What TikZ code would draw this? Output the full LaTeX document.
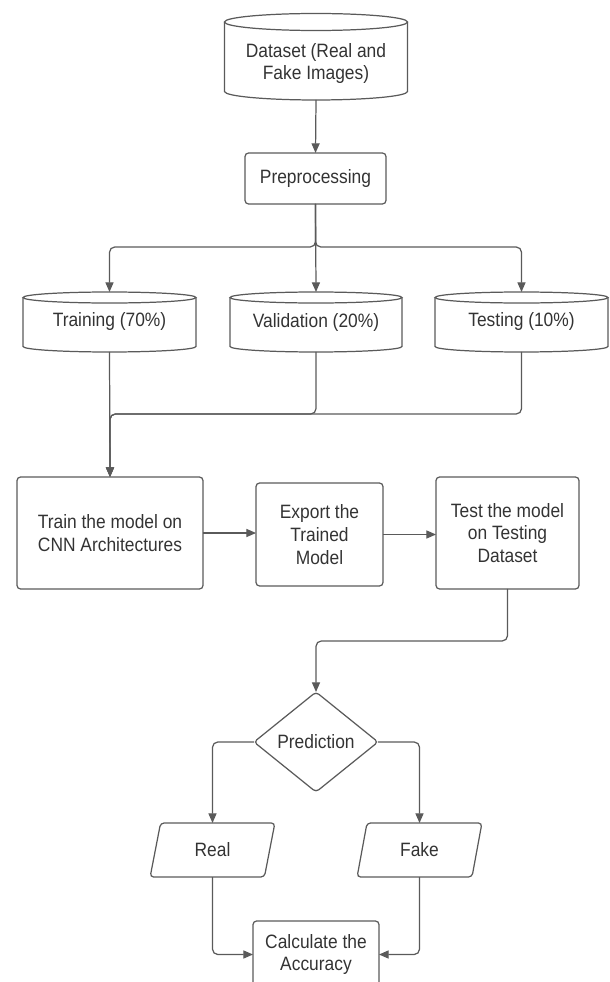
\documentclass[tikz,border=0pt]{standalone}
\usepackage{fontspec}
\setmainfont{Liberation Sans}[FakeStretch=0.9]
\usepackage{tikz}
\usetikzlibrary{arrows.meta,positioning,calc,shapes.geometric}

\definecolor{linegray}{HTML}{5A5A5A}
\definecolor{textgray}{HTML}{333333}

\tikzset{
  base/.style={draw=none, outer sep=0pt, inner sep=2pt, align=center, text=textgray,
    font=\fontsize{11}{13}\selectfont},
  procbox/.style={base, draw=linegray, line width=0.7pt, rounded corners=2pt},
  dbbox/.style={base},
  decision/.style={base, draw=linegray, line width=0.7pt, diamond, rounded corners=2pt, inner sep=0pt},
  iobox/.style={base, draw=linegray, line width=0.7pt, trapezium, trapezium left angle=78.5,
    trapezium right angle=101.5, trapezium stretches=true, rounded corners=2pt},
  cylline/.style={draw=linegray, line width=0.7pt},
  arrow/.style={draw=linegray, line width=0.7pt, rounded corners=3pt,
    -{Triangle[length=5.5pt,width=4.6pt]}},
}

\begin{document}
\begin{tikzpicture}[x=0.02cm,y=0.02cm]
\clip (0,0) rectangle (609,-982);

% Data sources (cylinders)
\node[dbbox, minimum width=3.66cm, minimum height=1.46cm] (data) at (316,-63.5)
  {Dataset (Real and\\Fake Images)};
\node[procbox, minimum width=2.82cm, minimum height=1.02cm] (prep) at (315.5,-178.5) {Preprocessing};
\node[dbbox, minimum width=3.46cm, minimum height=1.2cm] (train) at (109.5,-322) {Training (70\%)};
\node[dbbox, minimum width=3.44cm, minimum height=1.2cm] (valid) at (316,-322) {Validation (20\%)};
\node[dbbox, minimum width=3.46cm, minimum height=1.2cm] (test) at (521.5,-322) {Testing (10\%)};

% cylinder outlines: name / half width / radius / top ellipse offset
\foreach \n/\hw/\r/\t in {data/1.83/0.17/0.10, train/1.73/0.11/-0.11,
                          valid/1.72/0.11/-0.11, test/1.73/0.11/-0.11}{
  \draw[cylline] ($(\n.north west)+(0,\t cm)$) -- ($(\n.south west)+(0,\r cm)$)
    arc[start angle=180, end angle=360, x radius=\hw cm, y radius=\r cm]
    -- ($(\n.north east)+(0,\t cm)$);
  \draw[cylline] ($(\n.north)+(0,\t cm)$) ellipse[x radius=\hw cm, y radius=\r cm];
}

% Model steps
\node[procbox, minimum width=3.72cm, minimum height=2.24cm] (cnn) at (110,-533)
  {Train the model on\\CNN Architectures};
\node[procbox, minimum width=2.54cm, minimum height=2.06cm] (export) at (319.5,-534.5)
  {Export the\\Trained\\Model};
\node[procbox, minimum width=2.86cm, minimum height=2.24cm] (testm) at (507.5,-533)
  {Test the model\\on Testing\\Dataset};

% Prediction and outcome
\node[decision, minimum width=2.48cm, minimum height=2cm] (pred) at (316,-742) {Prediction};
\node[iobox, minimum width=2.5cm, minimum height=1.08cm] (real) at (212.5,-850) {Real};
\node[iobox, minimum width=2.5cm, minimum height=1.08cm] (fake) at (419.5,-850) {Fake};
\node[procbox, minimum width=2.52cm, minimum height=1.34cm] (acc) at (316,-954.5)
  {Calculate the\\Accuracy};

% Connectors
\coordinate (merge) at (110,-414);
\draw[arrow] (data.south) -- (prep.north);
\draw[arrow] (prep.south) -- (valid.north);
\draw[arrow] (prep.south) -- ++(0,-43) -| (train.north);
\draw[arrow] (prep.south) -- ++(0,-43) -| (test.north);
\draw[arrow] (train.south) -- (cnn.north);
\draw[arrow] (valid.south) |- (merge) -- (cnn.north);
\draw[arrow] (test.south) |- (merge) -- (cnn.north);
\draw[arrow] (cnn.east) -- (cnn.east -| export.west);
\draw[arrow] (export.east) -- (export.east -| testm.west);
\draw[arrow] (testm.south) -- ++(0,-52) -| (pred.north);
\draw[arrow] (pred.west) -| (real.north);
\draw[arrow] (pred.east) -| (fake.north);
\draw[arrow] (real.south) |- (acc.west);
\draw[arrow] (fake.south) |- (acc.east);
\end{tikzpicture}
\end{document}
